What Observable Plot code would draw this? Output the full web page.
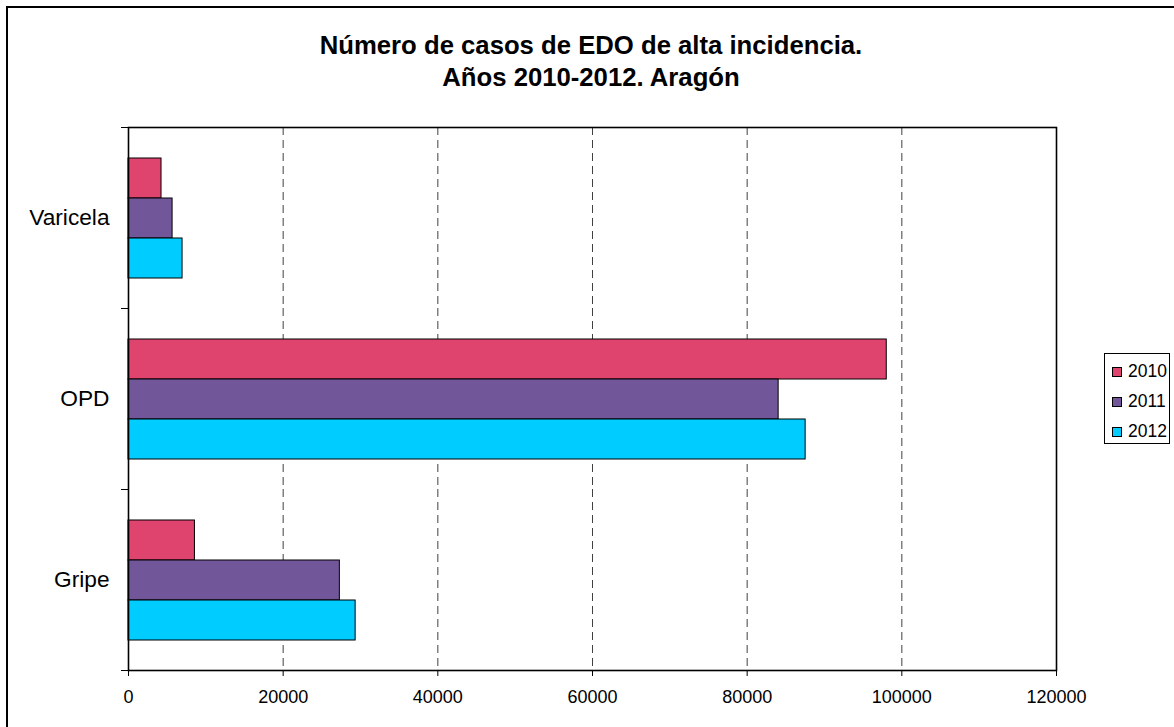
<!DOCTYPE html>
<html>
<head>
<meta charset="utf-8">
<script src="https://cdn.jsdelivr.net/npm/d3@7"></script>
<script src="https://cdn.jsdelivr.net/npm/@observablehq/plot@0.6"></script>
<style>
  html, body { margin: 0; padding: 0; background: #fff; overflow: hidden; }
  #wrap { position: relative; width: 1174px; height: 727px; font-family: "Liberation Sans", Arial, sans-serif; }
  #border { position: absolute; left: 6px; top: 6px; width: 1200px; height: 800px; border: 2px solid #000; box-sizing: border-box; }
  #title { position: absolute; left: 4px; width: 1174px; top: 29px; text-align: center; font-weight: bold; font-size: 25.7px; line-height: 32px; color: #000; }
  #chart { position: absolute; left: 0; top: 0; }
  #legend { position: absolute; left: 1104px; top: 353px; width: 66px; height: 91px; border: 1px solid #000; box-sizing: border-box; font-size: 17.5px; }
  .item { position: absolute; left: 7px; height: 20px; line-height: 20px; white-space: nowrap; }
  .sw { display: inline-block; width: 10px; height: 10px; border: 1px solid #000; box-sizing: border-box; margin-right: 6px; vertical-align: 0px; }
</style>
</head>
<body>
<div id="wrap">
  <div id="border"></div>
  <div id="chart"></div>
  <div id="title">Número de casos de EDO de alta incidencia.<br>Años 2010-2012. Aragón</div>
  <div id="legend"></div>
</div>
<script>
const categories = ["Varicela", "OPD", "Gripe"];
const years = ["2010", "2011", "2012"];
const colors = ["#DF446E", "#72569A", "#00CCFF"];
const values2010 = [4270, 98050, 8590];
const values2011 = [5700, 84070, 27330];
const values2012 = [6990, 87560, 29370];
const xTicks = [0, 20000, 40000, 60000, 80000, 100000, 120000];
const gridTicks = [20000, 40000, 60000, 80000, 100000];

const series = [values2010, values2011, values2012];
const data = [];
categories.forEach((c, i) => years.forEach((y, j) => data.push({cat: c, year: y, value: series[j][i]})));

const W = 1174, H = 727, ML = 128, MR = 118, MT = 127, MB = 57;
const innerW = W - ML - MR;

const plot = Plot.plot({
  width: W, height: H,
  marginLeft: ML, marginRight: MR, marginTop: MT, marginBottom: MB,
  style: {fontFamily: '"Liberation Sans", Arial, sans-serif', color: "#000", background: "transparent"},
  x: {domain: [0, 120000], ticks: xTicks, tickFormat: d => String(d), label: null},
  y: {domain: years, paddingInner: 0, paddingOuter: 0.75, axis: null},
  fy: {domain: categories, padding: 0, label: null, axis: null},
  color: {domain: years, range: colors},
  marks: [
    Plot.ruleX(gridTicks, {x: d => d, stroke: "#000", strokeWidth: 1, strokeDasharray: "8,5", strokeOpacity: 0.75}),
    Plot.barX(data, {x: "value", y: "year", fy: "cat", fill: "year", stroke: "#000", strokeWidth: 1}),
    Plot.frame({facet: "super", stroke: "#000", strokeWidth: 1.6}),
    Plot.frame({anchor: "top", insetLeft: -7, insetRight: innerW, stroke: "#000"}),
    Plot.frame({anchor: "bottom", insetLeft: -7, insetRight: innerW, stroke: "#000"}),
    Plot.axisX({ticks: xTicks, tickFormat: d => String(d), tickSize: 6, tickPadding: 14, fontSize: 18, label: null}),
    Plot.axisFy({anchor: "left", tickSize: 0, tickPadding: 19, fontSize: 22.7, label: null})
  ]
});
document.getElementById("chart").appendChild(plot);

const legend = document.getElementById("legend");
years.forEach((y, i) => {
  const d = document.createElement("div");
  d.className = "item";
  d.style.top = (7 + i * 30) + "px";
  d.innerHTML = `<span class="sw" style="background:${colors[i]}"></span>${y}`;
  legend.appendChild(d);
});
</script>
</body>
</html>
